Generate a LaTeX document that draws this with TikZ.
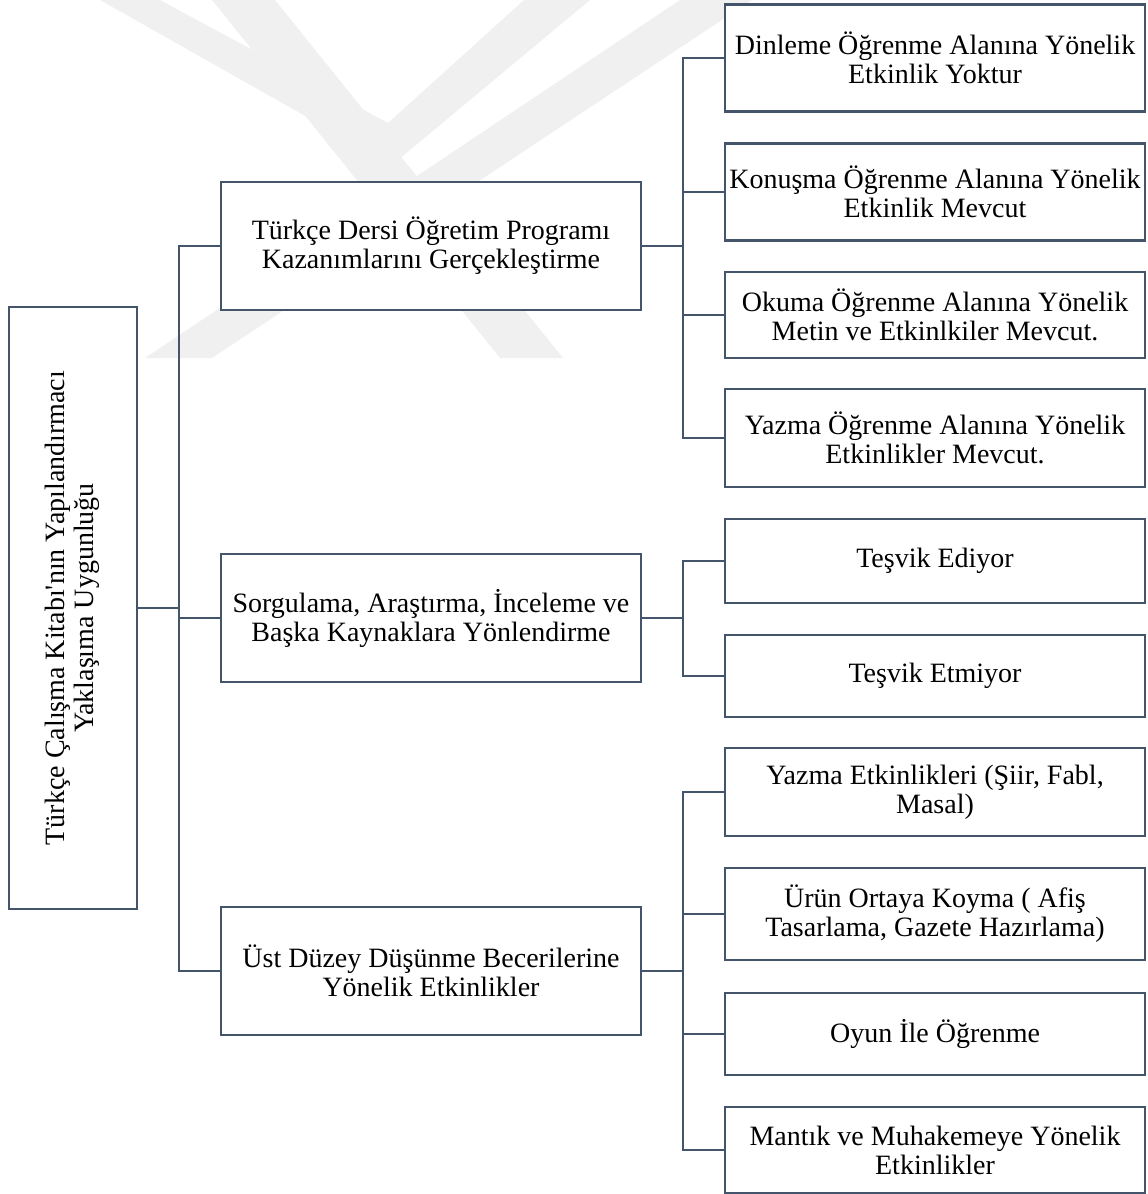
\documentclass[tikz,border=0pt]{standalone}
\usepackage{fontspec}
\setmainfont{Liberation Serif}
\usepackage{graphicx}
\definecolor{linec}{HTML}{44546A}
\definecolor{wmark}{HTML}{F0F0F0}
\begin{document}
\begin{tikzpicture}[x=1pt,y=-1pt,
  box/.style={draw=linec, line width=2.8pt, fill=white, align=center,
    inner sep=0pt, outer sep=0pt, font=\fontsize{28}{29}\selectfont,
    minimum width=420pt},
  conn/.style={draw=linec, line width=2.8pt},
  wm/.style={fill=wmark, draw=none}]
\useasboundingbox (0,0) rectangle (1148,1194);

% faint background watermark
\begin{scope}
\clip (0,0) rectangle (1148,358);
\fill[wm] (100,0) -- (160,0) -- (388,123) -- (524,0) -- (590,0) -- (392,165) -- cycle;
\fill[wm] (212,0) -- (275,0) -- (563,358) -- (500,358) -- cycle;
\fill[wm] (680,0) -- (752,0) -- (212,358) -- (145,358) -- cycle;
\end{scope}

% root
\node[box, minimum width=128pt, minimum height=602pt] (root) at (73,608)
  {\rotatebox{90}{\begin{tabular}{@{}c@{}}Türkçe Çalışma Kitabı\textquotesingle nın Yapılandırmacı\\Yaklaşıma Uygunluğu\end{tabular}}};

% level 1
\node[box, minimum height=128pt] (A) at (431,246)
  {Türkçe Dersi Öğretim Programı\\Kazanımlarını Gerçekleştirme};
\node[box, minimum height=128pt] (B) at (431,618)
  {Sorgulama, Araştırma, İnceleme ve\\Başka Kaynaklara Yönlendirme};
\node[box, minimum height=128pt] (C) at (431,971)
  {Üst Düzey Düşünme Becerilerine\\Yönelik Etkinlikler};

% level 2 under A
\node[box, minimum height=107pt] (A1) at (935,58)
  {Dinleme Öğrenme Alanına Yönelik\\Etkinlik Yoktur};
\node[box, minimum height=97pt] (A2) at (935,192)
  {Konuşma Öğrenme Alanına Yönelik\\Etkinlik Mevcut};
\node[box, minimum height=86pt] (A3) at (935,315)
  {Okuma Öğrenme Alanına Yönelik\\Metin ve Etkinlkiler Mevcut.};
\node[box, minimum height=98pt] (A4) at (935,438)
  {Yazma Öğrenme Alanına Yönelik\\Etkinlikler Mevcut.};

% level 2 under B
\node[box, minimum height=84pt] (B1) at (935,561) {Teşvik Ediyor};
\node[box, minimum height=82pt] (B2) at (935,676) {Teşvik Etmiyor};

% level 2 under C
\node[box, minimum height=88pt] (C1) at (935,792)
  {Yazma Etkinlikleri (Şiir, Fabl,\\Masal)};
\node[box, minimum height=92pt] (C2) at (935,914)
  {Ürün Ortaya Koyma ( Afiş\\Tasarlama, Gazete Hazırlama)};
\node[box, minimum height=82pt] (C3) at (935,1034) {Oyun İle Öğrenme};
\node[box, minimum height=86pt] (C4) at (935,1150)
  {Mantık ve Muhakemeye Yönelik\\Etkinlikler};

% connectors
\coordinate (j0) at ([xshift=42pt]root.east);
\coordinate (jA) at ([xshift=42pt]A.east);
\coordinate (jB) at ([xshift=42pt]B.east);
\coordinate (jC) at ([xshift=42pt]C.east);

\draw[conn] (root.east) -- (j0);
\draw[conn] (j0) |- (A.west);
\draw[conn] (j0) |- (B.west);
\draw[conn] (j0) |- (C.west);

\draw[conn] (A.east) -- (jA);
\draw[conn] (jA) |- (A1.west);
\draw[conn] (jA) |- (A2.west);
\draw[conn] (jA) |- (A3.west);
\draw[conn] (jA) |- (A4.west);

\draw[conn] (B.east) -- (jB);
\draw[conn] (jB) |- (B1.west);
\draw[conn] (jB) |- (B2.west);

\draw[conn] (C.east) -- (jC);
\draw[conn] (jC) |- (C1.west);
\draw[conn] (jC) |- (C2.west);
\draw[conn] (jC) |- (C3.west);
\draw[conn] (jC) |- (C4.west);
\end{tikzpicture}
\end{document}
